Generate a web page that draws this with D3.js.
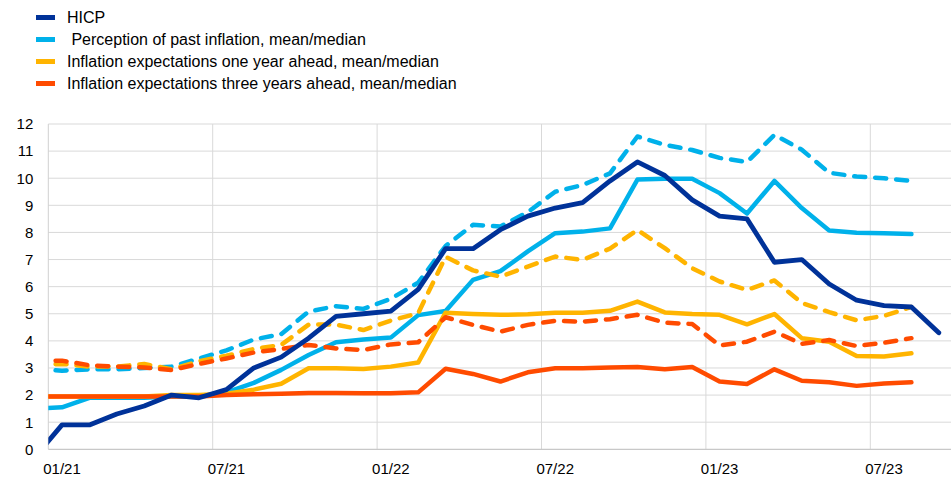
<!DOCTYPE html>
<html>
<head>
<meta charset="utf-8">
<script src="https://cdn.jsdelivr.net/npm/d3@7"></script>
<style>
  html, body { margin: 0; padding: 0; background: #ffffff; }
  svg { display: block; }
  text { font-family: "Liberation Sans", Arial, sans-serif; fill: #000; }
</style>
</head>
<body>
<svg id="chart" width="951" height="477"></svg>
<script>
// ---------- data ----------
const months = ["12/20",
  "01/21","02/21","03/21","04/21","05/21","06/21","07/21","08/21","09/21","10/21","11/21","12/21",
  "01/22","02/22","03/22","04/22","05/22","06/22","07/22","08/22","09/22","10/22","11/22","12/22",
  "01/23","02/23","03/23","04/23","05/23","06/23","07/23","08/23","09/23"];
const tickLabels = ["01/21","07/21","01/22","07/22","01/23","07/23"];
const yTicks = [0,1,2,3,4,5,6,7,8,9,10,11,12];

const hicp = [-0.3,
  0.9,0.9,1.3,1.6,2.0,1.9,2.2,3.0,3.4,4.1,4.9,5.0,
  5.1,5.9,7.4,7.4,8.1,8.6,8.9,9.1,9.9,10.6,10.1,9.2,
  8.6,8.5,6.9,7.0,6.1,5.5,5.3,5.25,4.3];
const perceptionMean = [2.95,
  2.9,2.95,2.95,3.0,3.05,3.35,3.65,4.05,4.25,5.08,5.28,5.18,
  5.55,6.15,7.5,8.28,8.22,8.75,9.5,9.75,10.18,11.54,11.23,11.04,
  10.75,10.6,11.6,11.05,10.2,10.06,10.0,9.9];
const perceptionMedian = [1.5,
  1.55,1.9,1.9,1.9,1.95,1.95,2.1,2.45,2.93,3.48,3.95,4.05,
  4.12,4.95,5.1,6.25,6.57,7.3,7.97,8.03,8.15,9.95,9.98,9.98,
  9.45,8.7,9.9,8.9,8.07,7.99,7.97,7.94];
const oneYearMean = [3.1,
  3.15,3.05,3.05,3.15,2.95,3.25,3.45,3.7,3.85,4.6,4.6,4.4,
  4.75,5.02,7.1,6.6,6.37,6.74,7.11,6.99,7.4,8.09,7.42,6.68,
  6.19,5.88,6.23,5.4,5.06,4.76,4.92,5.25];
const oneYearMedian = [1.95,
  1.95,1.95,1.95,1.95,2.0,2.0,2.05,2.2,2.42,2.99,2.99,2.96,
  3.05,3.2,5.04,4.99,4.96,4.98,5.04,5.04,5.11,5.45,5.05,4.99,
  4.96,4.61,4.99,4.1,3.97,3.44,3.42,3.54];
const threeYearMean = [3.25,
  3.27,3.1,3.05,3.02,2.92,3.15,3.35,3.57,3.7,3.85,3.72,3.66,
  3.87,3.95,4.87,4.59,4.34,4.59,4.74,4.71,4.8,4.96,4.67,4.62,
  3.83,3.97,4.34,3.89,4.03,3.81,3.93,4.1];
const threeYearMedian = [1.95,
  1.95,1.95,1.95,1.95,1.95,1.95,2.0,2.03,2.05,2.08,2.08,2.07,
  2.07,2.1,2.97,2.78,2.5,2.84,2.99,2.99,3.02,3.04,2.95,3.04,
  2.5,2.41,2.95,2.53,2.47,2.34,2.43,2.47];

const legendLabels = ["HICP",
  " Perception of past inflation, mean/median",
  "Inflation expectations one year ahead, mean/median",
  "Inflation expectations three years ahead, mean/median"];

// ---------- styles ----------
const C_DARK = "#003299", C_LIGHT = "#00B1EA", C_YEL = "#FFB400", C_ORG = "#FF4B00";

const series = [
  {values: perceptionMean,   color: C_LIGHT, dashed: true},
  {values: perceptionMedian, color: C_LIGHT, dashed: false},
  {values: oneYearMean,      color: C_YEL,   dashed: true},
  {values: oneYearMedian,    color: C_YEL,   dashed: false},
  {values: threeYearMean,    color: C_ORG,   dashed: true},
  {values: threeYearMedian,  color: C_ORG,   dashed: false},
  {values: hicp,             color: C_DARK,  dashed: false, hicp: true}
];
const legendColors = [C_DARK, C_LIGHT, C_YEL, C_ORG];

// ---------- layout ----------
const svg = d3.select("#chart");
const plotLeft = 48.3, plotRight = 951, plotTop = 124, plotBottom = 449.3;
const monthW = 27.4;

const x = d3.scaleBand()
  .domain(months)
  .range([plotLeft - monthW, plotLeft - monthW + months.length * monthW])
  .paddingInner(0).paddingOuter(0);
const cx = m => x(m) + x.bandwidth() / 2;
const y = d3.scaleLinear().domain([0, 12]).range([plotBottom, plotTop]);

// gridlines
const grid = svg.append("g");
grid.selectAll("line.h").data(yTicks.filter(d => d > 0)).join("line")
  .attr("x1", plotLeft).attr("x2", plotRight)
  .attr("y1", d => y(d)).attr("y2", d => y(d))
  .attr("stroke", "#d9d9d9").attr("stroke-width", 1);
grid.selectAll("line.v").data(tickLabels.slice(1)).join("line")
  .attr("x1", d => x(d)).attr("x2", d => x(d))
  .attr("y1", plotTop).attr("y2", plotBottom)
  .attr("stroke", "#d9d9d9").attr("stroke-width", 1);
// axes lines
svg.append("line").attr("x1", plotLeft).attr("x2", plotLeft)
  .attr("y1", plotTop).attr("y2", plotBottom).attr("stroke", "#d0d0d0").attr("stroke-width", 1);
svg.append("line").attr("x1", plotLeft).attr("x2", plotRight)
  .attr("y1", plotBottom).attr("y2", plotBottom).attr("stroke", "#c8c8c8").attr("stroke-width", 1.2);

// y axis labels
const yAxis = d3.axisLeft(y).tickValues(yTicks).tickSize(0).tickPadding(15).tickFormat(d3.format("d"));
const gy = svg.append("g").attr("transform", `translate(${plotLeft},0)`).call(yAxis);
gy.select(".domain").remove();
gy.selectAll("text").style("font-family", '"Liberation Sans", Arial, sans-serif')
  .style("font-size", "15px").attr("fill", "#000");

// x axis labels
const xAxis = d3.axisBottom(x).tickValues(tickLabels).tickSize(0).tickPadding(0);
const gx = svg.append("g").attr("transform", `translate(0,${plotBottom})`).call(xAxis);
gx.select(".domain").remove();
gx.selectAll("text").style("font-family", '"Liberation Sans", Arial, sans-serif')
  .style("font-size", "15px").attr("fill", "#000").attr("dy", null).attr("y", 25);

// clip
svg.append("clipPath").attr("id", "clip").append("rect")
  .attr("x", plotLeft).attr("y", 0).attr("width", plotRight - plotLeft).attr("height", 477);

const line = d3.line().x((d, i) => cx(months[i])).y(d => y(d));
const lines = svg.append("g").attr("clip-path", "url(#clip)");
series.forEach(s => {
  lines.append("path")
    .datum(s.values)
    .attr("d", line)
    .attr("fill", "none")
    .attr("stroke", s.color)
    .attr("stroke-width", s.hicp ? 4.8 : 4.5)
    .attr("stroke-linejoin", "round")
    .attr("stroke-linecap", "round")
    .attr("stroke-dasharray", s.dashed ? "11,10" : null);
});

// legend
const lg = svg.append("g");
legendLabels.forEach((lab, i) => {
  const cy = 17.5 + i * 22;
  lg.append("rect").attr("x", 36).attr("y", cy - 2.5).attr("width", 19).attr("height", 5)
    .attr("fill", legendColors[i]);
  lg.append("text").attr("x", 67).attr("y", cy + 5.8)
    .style("font-size", "16px").style("white-space", "pre").text(lab);
});
</script>
</body>
</html>
